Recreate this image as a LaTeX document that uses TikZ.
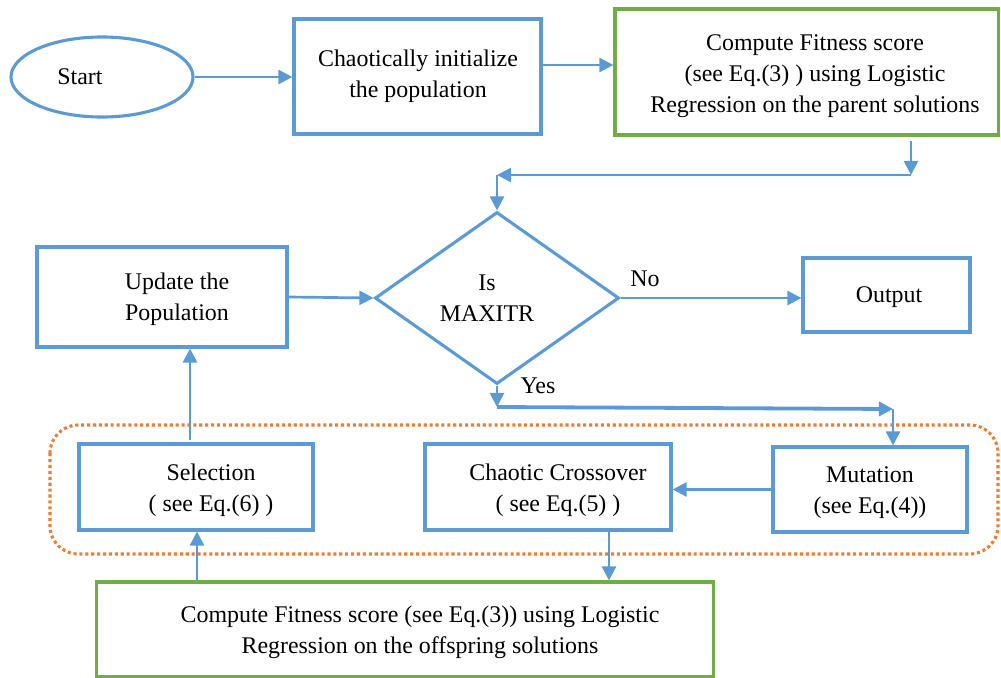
\documentclass[tikz,border=0pt]{standalone}
\usepackage{fontspec}
\setmainfont{Liberation Serif}
\usetikzlibrary{shapes.geometric,arrows.meta}
\definecolor{myblue}{HTML}{5B9BD5}
\definecolor{mygreen}{HTML}{70AD47}
\definecolor{myorange}{HTML}{ED7D31}
\tikzset{
  bbox/.style={draw=myblue,line width=2.2pt,rectangle,inner sep=0pt},
  gbox/.style={draw=mygreen,line width=2.2pt,rectangle,inner sep=0pt},
  txt/.style={align=center,font=\fontsize{17pt}{22pt}\selectfont,inner sep=0pt},
  arr/.style={draw=myblue,line width=1.9pt,-{Triangle[length=10pt,width=10pt]}},
}
\begin{document}
\begin{tikzpicture}[x=0.025cm,y=-0.025cm]
\useasboundingbox (0,0) rectangle (1001,678);
% group frame
\draw[myorange,line width=2.2pt,dotted,rounded corners=20] (50,425) rectangle (998,554);
% shapes
\node[draw=myblue,line width=2.2pt,ellipse,inner sep=0pt,minimum width=4.55cm,minimum height=2.0cm] (start) at (102,77) {};
\node[bbox,minimum width=6.175cm,minimum height=2.875cm] (init) at (417.5,76.5) {};
\node[gbox,minimum width=9.575cm,minimum height=3.15cm] (fit1) at (806.5,72) {};
\node[draw=myblue,line width=2.2pt,diamond,inner sep=0pt,minimum width=6.1cm,minimum height=4.3cm] (dia) at (497,298) {};
\node[bbox,minimum width=6.25cm,minimum height=2.5cm] (upd) at (162,297) {};
\node[bbox,minimum width=4.175cm,minimum height=1.85cm] (out) at (886.5,295) {};
\node[bbox,minimum width=5.85cm,minimum height=2.15cm] (sel) at (196,487) {};
\node[bbox,minimum width=6.15cm,minimum height=2.15cm] (cross) at (548,487) {};
\node[bbox,minimum width=4.85cm,minimum height=2.125cm] (mut) at (870,489.5) {};
\node[gbox,minimum width=15.4cm,minimum height=2.375cm] (fit2) at (405,629.5) {};
% texts
\node[txt] (tstart) at (80,77) {Start};
\node[txt] (tinit) at (418,76) {Chaotically initialize\\the population};
\node[txt] (tfit1) at (815,76) {Compute Fitness score\\(see Eq.(3) ) using Logistic\\Regression on the parent solutions};
\node[txt] (tupd) at (177,299) {Update the\\Population};
\node[txt] (tdia) at (487,298) {Is\\MAXITR};
\node[txt] (tout) at (889,297) {Output};
\node[txt] (tsel) at (211,490) {Selection\\( see Eq.(6) )};
\node[txt] (tcross) at (558,490) {Chaotic Crossover\\( see Eq.(5) )};
\node[txt] (tmut) at (870,493) {Mutation\\(see Eq.(4))};
\node[txt] (tfit2) at (420,632) {Compute Fitness score (see Eq.(3)) using Logistic\\Regression on the offspring solutions};
\node[txt] (no) at (645,279) {No};
\node[txt] (yes) at (538,386) {Yes};
% coordinates
\coordinate (g0) at (911,141);
\coordinate (c1) at (911,175);
\coordinate (c2) at (497,175);
\coordinate (c3) at (497,407);
\coordinate (c4) at (893,409);
\coordinate (s0) at (190,440);
% connectors
\draw[arr] (start.east) -- (init.west |- start.east);
\draw[arr] (init.east |- 0,65) -- (fit1.west |- 0,65);
\draw[arr] (g0) -- (c1);
\draw[arr] (c1) -- (c2);
\draw[arr] (c2) -- (dia.north);
\draw[arr] (upd.east) -- (dia.west);
\draw[arr] (dia.east) -- (out.west |- dia.east);
\draw[arr] (dia.south) -- (c3);
\draw[arr,line width=2.7pt] (c3) -- (c4);
\draw[arr] (c4) -- (mut.north -| c4);
\draw[arr] (mut.west) -- (cross.east |- mut.west);
\draw[arr] (cross.south -| 609,0) -- (fit2.north -| 609,0);
\draw[arr] (fit2.north -| 197,0) -- (sel.south -| 197,0);
\draw[arr] (s0) -- (upd.south -| s0);
\end{tikzpicture}
\end{document}
